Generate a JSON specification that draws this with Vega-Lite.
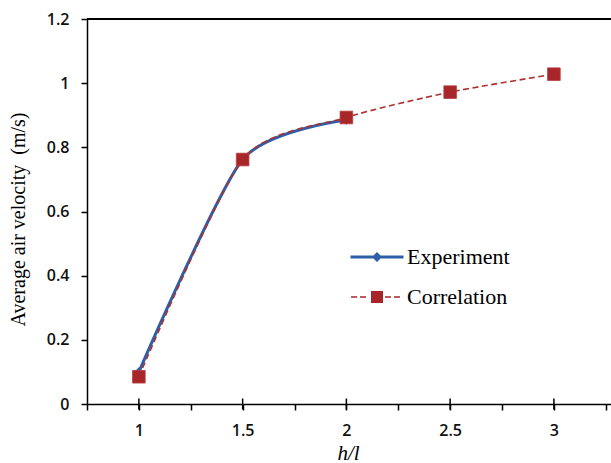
{
  "$schema": "https://vega.github.io/schema/vega-lite/v6.json",
  "width": 525,
  "height": 385,
  "autosize": {"type": "none"},
  "padding": {"left": 87, "top": 19, "right": 0, "bottom": 59},
  "background": "white",
  "config": {
    "view": {"stroke": null},
    "axis": {"domainColor": "#000", "tickColor": "#000", "domainWidth": 1.5, "tickWidth": 1.5, "grid": false, "labelColor": "#111", "labelFont": "Open Sans", "labelFontSize": 16, "labelFontWeight": 600}
  },
  "data": {
    "values": [
      {"x": 1, "y": 0.1, "series": "Experiment"},
      {"x": 1.5, "y": 0.762, "series": "Experiment"},
      {"x": 2, "y": 0.885, "series": "Experiment"},
      {"x": 1, "y": 0.085, "series": "Correlation"},
      {"x": 1.5, "y": 0.762, "series": "Correlation"},
      {"x": 2, "y": 0.893, "series": "Correlation"},
      {"x": 2.5, "y": 0.972, "series": "Correlation"},
      {"x": 3, "y": 1.028, "series": "Correlation"}
    ]
  },
  "encoding": {
    "x": {
      "field": "x", "type": "quantitative",
      "scale": {"domain": [0.75, 3.28], "nice": false, "zero": false},
      "axis": {
        "orient": "bottom",
        "values": [0.75, 1, 1.25, 1.5, 1.75, 2, 2.25, 2.5, 2.75, 3, 3.25],
        "labelExpr": "datum.value % 0.5 == 0 ? datum.value + '' : ''",
        "tickSize": 6, "labelPadding": 12, "labelFlush": false,
        "title": "h/l", "titleFont": "Liberation Serif", "titleFontStyle": "italic", "titleFontWeight": "normal", "titleFontSize": 21, "titleColor": "#000",
        "titleBaseline": "alphabetic", "titleY": 55, "titleX": 261
      }
    },
    "y": {
      "field": "y", "type": "quantitative",
      "scale": {"domain": [0, 1.2], "nice": false},
      "axis": {
        "values": [0, 0.2, 0.4, 0.6, 0.8, 1, 1.2],
        "labelExpr": "datum.value + ''",
        "tickSize": 6, "labelPadding": 12,
        "title": "Average air velocity\u00a0\u00a0(m/s)", "titleFont": "Liberation Serif", "titleFontWeight": "normal", "titleFontSize": 20, "titleColor": "#000",
        "titleAngle": -90, "titleAlign": "center", "titleBaseline": "middle", "titleX": -69, "titleY": 200
      }
    }
  },
  "layer": [
    {
      "transform": [{"filter": "datum.series == 'Experiment'"}],
      "mark": {"type": "line", "color": "#2d5fa8", "strokeWidth": 3, "interpolate": "cardinal", "tension": 0.3}
    },
    {
      "transform": [{"filter": "datum.series == 'Experiment'"}],
      "mark": {"type": "point", "shape": "diamond", "filled": true, "color": "#2d5fa8", "size": 90, "opacity": 1}
    },
    {
      "transform": [{"filter": "datum.series == 'Correlation'"}],
      "mark": {"type": "line", "color": "#b03030", "strokeWidth": 1.6, "strokeDash": [6, 3.5], "interpolate": "cardinal", "tension": 0.3}
    },
    {
      "transform": [{"filter": "datum.series == 'Correlation'"}],
      "mark": {"type": "point", "shape": "square", "filled": true, "color": "#a8262a", "stroke": "#b84040", "strokeWidth": 0.8, "size": 160, "opacity": 1}
    },
    {
      "mark": {"type": "rule", "color": "#000", "strokeWidth": 1.5},
      "encoding": {"y": {"datum": 1.2}, "x": null}
    },
    {
      "transform": [{"filter": "datum.series == 'Correlation'"}],
      "mark": {"type": "tick", "orient": "vertical", "color": "#000", "thickness": 1.5, "size": 11, "opacity": 1},
      "encoding": {"y": {"datum": 0}}
    },
    {
      "transform": [{"filter": "false"}],
      "mark": {"type": "point", "filled": true, "opacity": 1},
      "encoding": {
        "color": {
          "field": "series", "type": "nominal",
          "scale": {"domain": ["Experiment", "Correlation"], "range": ["#2d5fa8", "#a8262a"]},
          "legend": {
            "title": null, "orient": "none", "legendX": 279, "legendY": 227,
            "symbolOpacity": 1, "symbolStrokeWidth": 0, "symbolSize": 100,
            "labelFont": "Liberation Serif", "labelFontSize": 22, "labelColor": "#000",
            "labelOffset": 19, "rowPadding": 18, "padding": 0
          }
        },
        "shape": {
          "field": "series", "type": "nominal",
          "scale": {"domain": ["Experiment", "Correlation"], "range": [
            "M-5.3,-0.3H5.3V0.3H-5.3Z M-1,0L0,-1L1,0L0,1Z",
            "M-5.2,-0.15H-4V0.15H-5.2Z M-3.4,-0.15H-2.2V0.15H-3.4Z M-1.2,-1.2H1.2V1.2H-1.2Z M1.6,-0.15H2.8V0.15H1.6Z M3.4,-0.15H4.6V0.15H3.4Z"
          ]}
        }
      }
    }
  ]
}
